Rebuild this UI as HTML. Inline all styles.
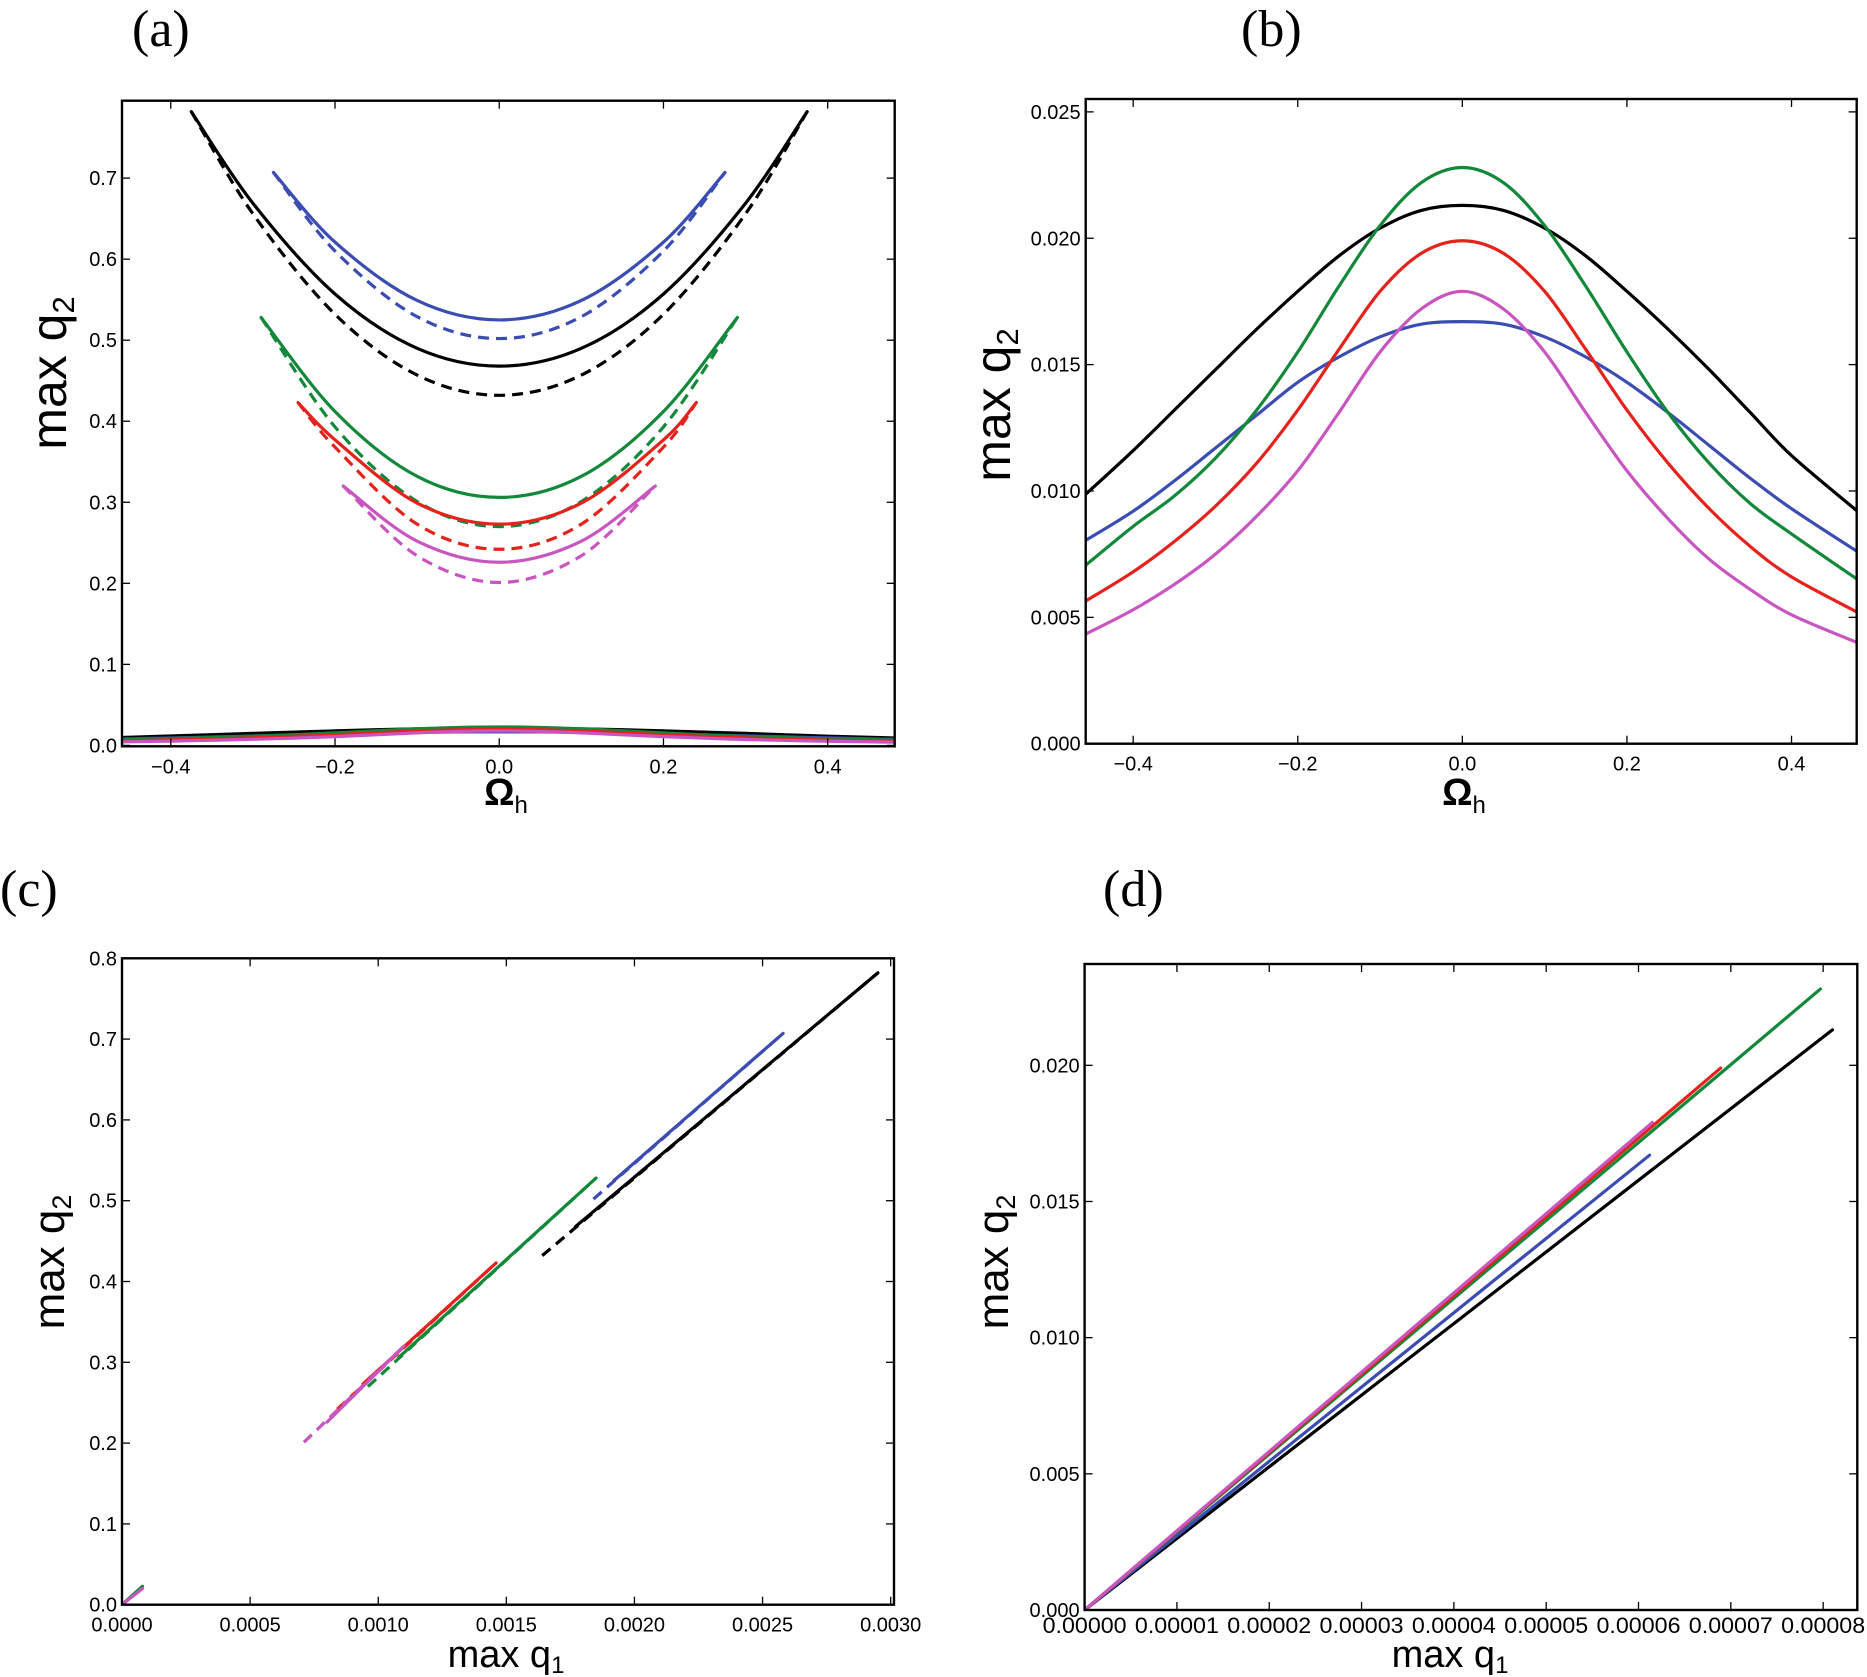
<!DOCTYPE html>
<html><head><meta charset="utf-8"><style>
html,body{margin:0;padding:0;background:#fff;}
svg{display:block;}
text{font-family:"Liberation Sans",sans-serif;fill:#000;}
</style></head><body>
<svg id="fig" width="1867" height="1677" viewBox="0 0 1867 1677" xmlns="http://www.w3.org/2000/svg"></svg>
<script>
// ---- Panel (a) data: parabolic branches (solid & dashed) ----
const aBlackX = [-0.375,-0.3,-0.2,-0.1,0,0.1,0.2,0.3,0.375];
const aBlackSolid = [0.782,0.669,0.557,0.490,0.468,0.490,0.557,0.669,0.782];
const aBlackDash = [0.782,0.656,0.532,0.457,0.432,0.457,0.532,0.656,0.782];
const aBlueX = [-0.275,-0.2,-0.1,0,0.1,0.2,0.275];
const aBlueSolid = [0.707,0.621,0.549,0.525,0.549,0.621,0.707];
const aBlueDash = [0.707,0.610,0.529,0.502,0.529,0.610,0.707];
const aGreenX = [-0.29,-0.2,-0.1,0,0.1,0.2,0.29];
const aGreenSolid = [0.528,0.412,0.332,0.306,0.332,0.412,0.528];
const aGreenDash = [0.528,0.393,0.301,0.270,0.301,0.393,0.528];
const aRedX = [-0.245,-0.2,-0.1,0,0.1,0.2,0.24];
const aRedSolid = [0.423,0.377,0.299,0.273,0.299,0.377,0.423];
const aRedDash = [0.423,0.368,0.273,0.242,0.273,0.368,0.423];
const aMagX = [-0.19,-0.1,0,0.1,0.19];
const aMagSolid = [0.320,0.252,0.226,0.252,0.320];
const aMagDash = [0.320,0.234,0.201,0.234,0.320];

// ---- Panel (b) data ----
const bX = [-0.46,-0.4,-0.35,-0.3,-0.25,-0.2,-0.15,-0.1,-0.05,0,0.05,0.1,0.15,0.2,0.25,0.3,0.35,0.4,0.48];
const bBlack = [0.0098,0.0116,0.0132,0.0148,0.0164,0.0179,0.0193,0.0204,0.0211,0.0213,0.0211,0.0204,0.0193,0.0179,0.0164,0.0148,0.0131,0.0114,0.0092];
const bBlue = [0.0080,0.0092,0.0104,0.0117,0.0130,0.0143,0.0153,0.0161,0.0166,0.0167,0.0166,0.0161,0.0153,0.0143,0.0131,0.0118,0.0105,0.0093,0.0076];
const bGreen = [0.0070,0.0086,0.0098,0.0113,0.0132,0.0155,0.0181,0.0205,0.0222,0.0228,0.0222,0.0205,0.0181,0.0155,0.0131,0.0111,0.0095,0.0083,0.0065];
const bRed = [0.0056,0.0068,0.0080,0.0094,0.0111,0.0132,0.0156,0.0179,0.0194,0.0199,0.0194,0.0179,0.0156,0.0132,0.0111,0.0093,0.0078,0.0066,0.0052];
const bMag = [0.0043,0.0053,0.0063,0.0075,0.0090,0.0108,0.0131,0.0155,0.0172,0.0179,0.0172,0.0155,0.0131,0.0108,0.0089,0.0073,0.0061,0.0051,0.0040];

// ---- Panel (c) data: [start, end] of each branch ----
const cBlackSolidQ1 = [0.00177,0.00295], cBlackSolidQ2 = [0.468,0.782];
const cBlackDashQ1 = [0.00164,0.00295], cBlackDashQ2 = [0.432,0.782];
const cBlueSolidQ1 = [0.00192,0.00258], cBlueSolidQ2 = [0.525,0.707];
const cBlueDashQ1 = [0.00184,0.00258], cBlueDashQ2 = [0.502,0.707];
const cGreenSolidQ1 = [0.00108,0.00185], cGreenSolidQ2 = [0.306,0.528];
const cGreenDashQ1 = [0.00096,0.00185], cGreenDashQ2 = [0.270,0.528];
const cRedSolidQ1 = [0.00094,0.00146], cRedSolidQ2 = [0.273,0.423];
const cRedDashQ1 = [0.00084,0.00146], cRedDashQ2 = [0.242,0.423];
const cMagSolidQ1 = [0.00080,0.00110], cMagSolidQ2 = [0.226,0.320];
const cMagDashQ1 = [0.00071,0.00110], cMagDashQ2 = [0.201,0.320];
const cSmallQ1 = [0,0.00008], cSmallQ2 = [0,0.0228];

// ---- Panel (d) data ----
const dBlackQ1 = [0,0.0000810], dBlackQ2 = [0,0.0213];
const dBlueQ1 = [0,0.0000612], dBlueQ2 = [0,0.0167];
const dGreenQ1 = [0,0.0000797], dGreenQ2 = [0,0.0228];
const dRedQ1 = [0,0.0000689], dRedQ2 = [0,0.0199];
const dMagQ1 = [0,0.0000615], dMagQ2 = [0,0.0179];

// ---- ticks ----
const aXTicks = [-0.4,-0.2,0,0.2,0.4];
const aXLabels = ["\u22120.4","\u22120.2","0.0","0.2","0.4"];
const aYTicks = [0,0.1,0.2,0.3,0.4,0.5,0.6,0.7];
const aYLabels = ["0.0","0.1","0.2","0.3","0.4","0.5","0.6","0.7"];
const bYTicks = [0,0.005,0.01,0.015,0.02,0.025];
const bYLabels = ["0.000","0.005","0.010","0.015","0.020","0.025"];
const cXTicks = [0,0.0005,0.001,0.0015,0.002,0.0025,0.003];
const cXLabels = ["0.0000","0.0005","0.0010","0.0015","0.0020","0.0025","0.0030"];
const cYTicks = [0,0.1,0.2,0.3,0.4,0.5,0.6,0.7,0.8];
const cYLabels = ["0.0","0.1","0.2","0.3","0.4","0.5","0.6","0.7","0.8"];
const dXTicks = [0,0.00001,0.00002,0.00003,0.00004,0.00005,0.00006,0.00007,0.00008];
const dXLabels = ["0.00000","0.00001","0.00002","0.00003","0.00004","0.00005","0.00006","0.00007","0.00008"];
const dYTicks = [0,0.005,0.01,0.015,0.02];
const dYLabels = ["0.000","0.005","0.010","0.015","0.020"];

const C = {black:"#000000", blue:"#3b4cb3", green:"#12883a", red:"#e5231c", mag:"#c855c0"};
const NS = "http://www.w3.org/2000/svg";
const svg = document.getElementById('fig');

function el(tag, attrs, parent){
  const e = document.createElementNS(NS, tag);
  for (const k in attrs) e.setAttribute(k, attrs[k]);
  (parent||svg).appendChild(e);
  return e;
}
function makeAxes(L,T,R,B,x0,x1,y0,y1){
  return {L,T,R,B,
    sx: v => L + (v-x0)/(x1-x0)*(R-L),
    sy: v => B - (v-y0)/(y1-y0)*(B-T)};
}
function smoothPath(ax, xs, ys){
  const p = xs.map((x,i)=>[ax.sx(x), ax.sy(ys[i])]);
  let d = "M"+p[0][0].toFixed(2)+","+p[0][1].toFixed(2);
  for (let i=0;i<p.length-1;i++){
    const p0 = p[i-1]||p[i], p1=p[i], p2=p[i+1], p3=p[i+2]||p[i+1];
    const c1x = p1[0]+(p2[0]-p0[0])/6, c1y = p1[1]+(p2[1]-p0[1])/6;
    const c2x = p2[0]-(p3[0]-p1[0])/6, c2y = p2[1]-(p3[1]-p1[1])/6;
    d += " C"+c1x.toFixed(2)+","+c1y.toFixed(2)+" "+c2x.toFixed(2)+","+c2y.toFixed(2)+" "+p2[0].toFixed(2)+","+p2[1].toFixed(2);
  }
  return d;
}
function drawCurve(g, ax, xs, ys, color, dashed, name){
  const path = el('path', {d: smoothPath(ax,xs,ys), fill:'none', stroke:color, 'stroke-width':3.2, 'stroke-linecap':'round', 'stroke-linejoin':'round'}, g);
  if (dashed) { path.setAttribute('stroke-dasharray','11 7'); path.setAttribute('stroke-linecap','butt'); }
  
  
}
function drawFrame(g, ax, xt, xl, yt, yl, xFont, xLen, xDy){
  xt.forEach((v,i)=>{
    const x = ax.sx(v);
    const t1 = el('line',{x1:x,y1:ax.B,x2:x,y2:ax.B-8,stroke:'#000','stroke-width':1.3},g);
    
    
    el('line',{x1:x,y1:ax.T,x2:x,y2:ax.T+8,stroke:'#000','stroke-width':1.3},g);
    let tx;
    if (xLen) {
      tx = el('text',{x:x-xLen/2,y:ax.B+(xDy||27),'text-anchor':'start','font-size':xFont,textLength:xLen,lengthAdjust:'spacingAndGlyphs'},g);
    } else {
      tx = el('text',{x:x,y:ax.B+27,'text-anchor':'middle','font-size':xFont||20},g);
    }
    tx.textContent = xl[i];
    
    
  });
  yt.forEach((v,i)=>{
    const y = ax.sy(v);
    const t1 = el('line',{x1:ax.L,y1:y,x2:ax.L+8,y2:y,stroke:'#000','stroke-width':1.3},g);
    
    
    el('line',{x1:ax.R,y1:y,x2:ax.R-8,y2:y,stroke:'#000','stroke-width':1.3},g);
    const ty = el('text',{x:ax.L-5,y:y+7,'text-anchor':'end','font-size':20},g);
    ty.textContent = yl[i];
    
    
  });
}
function drawBorder(g, ax){
  const r = el('rect',{x:ax.L,y:ax.T,width:ax.R-ax.L,height:ax.B-ax.T,fill:'none',stroke:'#000','stroke-width':2.4},g);
  
  
}
function clipFor(ax, id){
  const cp = el('clipPath',{id:id});
  el('rect',{x:ax.L,y:ax.T,width:ax.R-ax.L,height:ax.B-ax.T},cp);
  return 'url(#'+id+')';
}
function yLabel(g, cx, cy, fs){
  const t = el('text',{x:0,y:0,'font-size':fs,transform:'translate('+cx+','+cy+') rotate(-90)','text-anchor':'middle'},g);
  
  
  t.appendChild(document.createTextNode('max q'));
  const s = el('tspan',{'font-size':Math.round(fs*0.62),dy:Math.round(fs*0.16)},t); s.textContent='2';
}
function xLabelQ1(g, cx, cy){
  const t = el('text',{x:cx,y:cy,'font-size':38,'text-anchor':'middle'},g);
  
  
  t.appendChild(document.createTextNode('max q'));
  const s = el('tspan',{'font-size':24,dy:6},t); s.textContent='1';
}
function xLabelOmega(g, cx, cy){
  const t = el('text',{x:cx,y:cy,'font-size':38,'font-weight':'bold','text-anchor':'middle'},g);
  
  
  t.appendChild(document.createTextNode('\u03A9'));
  const s = el('tspan',{'font-size':24,'font-weight':'normal',dy:8},t); s.textContent='h';
}
function panelLabel(txt, x, y){
  const t = el('text',{x:x,y:y,'font-size':52,'style':'font-family:"Liberation Serif",serif'});
  t.textContent = txt;
  
  
}

// ===== Panel (a) =====
{
  const ax = makeAxes(122,100.7,894.7,746.3,-0.4594,0.4816,-0.0011,0.7955);
  const g = el('g',{});  
  const gc = el('g',{'clip-path':clipFor(ax,'ca')},g);
  drawCurve(gc,ax,aBlackX,aBlackDash,C.black,true,'black-dashed-branch');
  drawCurve(gc,ax,aBlackX,aBlackSolid,C.black,false,'black-solid-branch');
  drawCurve(gc,ax,aBlueX,aBlueDash,C.blue,true,'blue-dashed-branch');
  drawCurve(gc,ax,aBlueX,aBlueSolid,C.blue,false,'blue-solid-branch');
  drawCurve(gc,ax,aGreenX,aGreenDash,C.green,true,'green-dashed-branch');
  drawCurve(gc,ax,aGreenX,aGreenSolid,C.green,false,'green-solid-branch');
  drawCurve(gc,ax,aRedX,aRedDash,C.red,true,'red-dashed-branch');
  drawCurve(gc,ax,aRedX,aRedSolid,C.red,false,'red-solid-branch');
  drawCurve(gc,ax,aMagX,aMagDash,C.mag,true,'magenta-dashed-branch');
  drawCurve(gc,ax,aMagX,aMagSolid,C.mag,false,'magenta-solid-branch');
  drawCurve(gc,ax,bX,bBlack,C.black,false,'black-low-branch');
  drawCurve(gc,ax,bX,bBlue,C.blue,false,'blue-low-branch');
  drawCurve(gc,ax,bX,bGreen,C.green,false,'green-low-branch');
  drawCurve(gc,ax,bX,bRed,C.red,false,'red-low-branch');
  drawCurve(gc,ax,bX,bMag,C.mag,false,'magenta-low-branch');
  drawFrame(g,ax,aXTicks,aXLabels,aYTicks,aYLabels);
  drawBorder(g,ax);
  yLabel(g,66,373,50);
  xLabelOmega(g,506,805);
  panelLabel('(a)',132,46);
}
// ===== Panel (b) =====
{
  const ax = makeAxes(1085.7,99,1856.7,743.7,-0.4577,0.4792,0,0.02551);
  const g = el('g',{});  
  const gc = el('g',{'clip-path':clipFor(ax,'cb')},g);
  drawCurve(gc,ax,bX,bBlack,C.black,false,'black-curve');
  drawCurve(gc,ax,bX,bBlue,C.blue,false,'blue-curve');
  drawCurve(gc,ax,bX,bGreen,C.green,false,'green-curve');
  drawCurve(gc,ax,bX,bRed,C.red,false,'red-curve');
  drawCurve(gc,ax,bX,bMag,C.mag,false,'magenta-curve');
  drawFrame(g,ax,aXTicks,aXLabels,bYTicks,bYLabels);
  drawBorder(g,ax);
  yLabel(g,1010,405,50);
  xLabelOmega(g,1464,805);
  panelLabel('(b)',1241,46);
}
// ===== Panel (c) =====
{
  const ax = makeAxes(122,958.3,894,1604.7,0,0.003013,0,0.8);
  const g = el('g',{});  
  const gc = el('g',{'clip-path':clipFor(ax,'cc')},g);
  drawCurve(gc,ax,cBlackDashQ1,cBlackDashQ2,C.black,true,'black-dashed-line');
  drawCurve(gc,ax,cBlackSolidQ1,cBlackSolidQ2,C.black,false,'black-solid-line');
  drawCurve(gc,ax,cBlueDashQ1,cBlueDashQ2,C.blue,true,'blue-dashed-line');
  drawCurve(gc,ax,cBlueSolidQ1,cBlueSolidQ2,C.blue,false,'blue-solid-line');
  drawCurve(gc,ax,cGreenDashQ1,cGreenDashQ2,C.green,true,'green-dashed-line');
  drawCurve(gc,ax,cGreenSolidQ1,cGreenSolidQ2,C.green,false,'green-solid-line');
  drawCurve(gc,ax,cRedDashQ1,cRedDashQ2,C.red,true,'red-dashed-line');
  drawCurve(gc,ax,cRedSolidQ1,cRedSolidQ2,C.red,false,'red-solid-line');
  drawCurve(gc,ax,cMagDashQ1,cMagDashQ2,C.mag,true,'magenta-dashed-line');
  drawCurve(gc,ax,cMagSolidQ1,cMagSolidQ2,C.mag,false,'magenta-solid-line');
  drawCurve(gc,ax,cSmallQ1,cSmallQ2,C.green,false,'origin-segment');
  drawCurve(gc,ax,cSmallQ1,[0,0.0199],C.mag,false,'origin-segment-magenta');
  drawFrame(g,ax,cXTicks,cXLabels,cYTicks,cYLabels);
  drawBorder(g,ax);
  yLabel(g,64,1262,44);
  xLabelQ1(g,506,1667);
  panelLabel('(c)',0,906);
}
// ===== Panel (d) =====
{
  const ax = makeAxes(1084.6,964,1857.3,1610,0,0.0000837,0,0.02372);
  const g = el('g',{});  
  const gc = el('g',{'clip-path':clipFor(ax,'cd')},g);
  drawCurve(gc,ax,dBlackQ1,dBlackQ2,C.black,false,'black-line');
  drawCurve(gc,ax,dBlueQ1,dBlueQ2,C.blue,false,'blue-line');
  drawCurve(gc,ax,dGreenQ1,dGreenQ2,C.green,false,'green-line');
  drawCurve(gc,ax,dRedQ1,dRedQ2,C.red,false,'red-line');
  drawCurve(gc,ax,dMagQ1,dMagQ2,C.mag,false,'magenta-line');
  drawFrame(g,ax,dXTicks,dXLabels,dYTicks,dYLabels,22,84,23);
  drawBorder(g,ax);
  yLabel(g,1008,1262,44);
  xLabelQ1(g,1450,1667);
  panelLabel('(d)',1103,906);
}
</script>
</body></html>
